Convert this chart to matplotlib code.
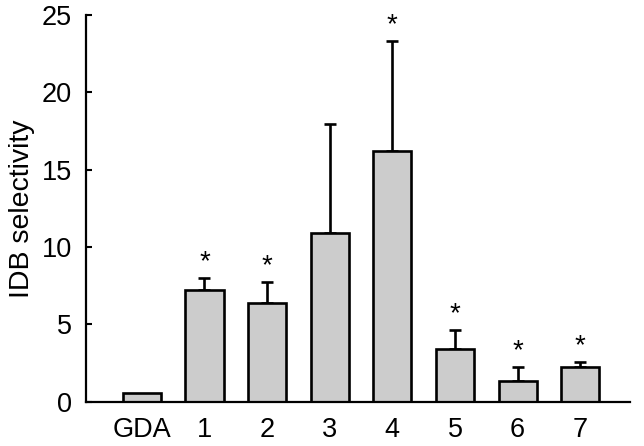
import numpy as np
import matplotlib
matplotlib.use('Agg')
import matplotlib.pyplot as plt

plt.rcParams['font.family'] = ['Liberation Sans', 'DejaVu Sans']

# data
labels = ['GDA', '1', '2', '3', '4', '5', '6', '7']
means = [0.54, 7.22, 6.36, 10.88, 16.2, 3.39, 1.36, 2.26]
err_top = [0.54, 7.98, 7.72, 17.97, 23.3, 4.63, 2.22, 2.59]
signif = [False, True, True, False, True, True, True, True]

errs = [t - m for t, m in zip(err_top, means)]
x = np.arange(len(labels))

fig = plt.figure(figsize=(6.44, 4.46), dpi=100)
ax = fig.add_axes([0.1335, 0.0993, 0.8445, 0.8671])

lw = 1.9
ax.bar(x, means, width=0.61, color='#cccccc', edgecolor='black', linewidth=lw, zorder=2)
# one-sided error bars (upper only)
has_err = [e > 0 for e in errs]
ax.errorbar(x[has_err], np.array(means)[has_err],
            yerr=[np.zeros(sum(has_err)), np.array(errs)[has_err]],
            fmt='none', ecolor='black', elinewidth=lw, capsize=4.5, capthick=lw, zorder=1)

for xi, top, s in zip(x, err_top, signif):
    if s:
        ax.annotate('*', (xi, top), xytext=(0, 2), textcoords='offset points',
                    ha='center', va='bottom', fontsize=20)

ax.set_xlim(-0.89, 7.79)
ax.set_ylim(0, 25)
ax.set_yticks([0, 5, 10, 15, 20, 25])
ax.set_xticks(x)
ax.set_xticklabels(labels)
ax.tick_params(axis='y', direction='in', length=4.5, width=1.5, labelsize=19.5, pad=10)
ax.tick_params(axis='x', length=0, labelsize=19.5, pad=11)
ax.set_ylabel('IDB selectivity', fontsize=20.5, labelpad=5)

for side in ['top', 'right']:
    ax.spines[side].set_visible(False)
for side in ['left', 'bottom']:
    ax.spines[side].set_linewidth(1.6)

fig.savefig('out.png', dpi=100)
